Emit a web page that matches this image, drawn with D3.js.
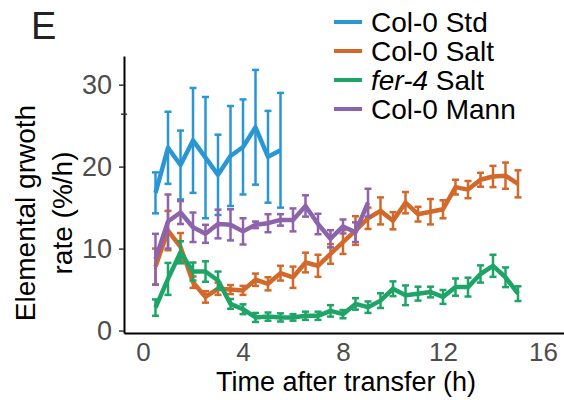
<!DOCTYPE html>
<html><head><meta charset="utf-8">
<script src="https://cdn.jsdelivr.net/npm/d3@7"></script>
<style>body{margin:0;background:#fff}svg{display:block}text{font-family:"Liberation Sans",Arial,sans-serif}</style>
</head><body><svg id="c" width="564" height="400"></svg>
<script>
const seriesNames = ["Col-0 Std", "Col-0 Salt", "fer-4 Salt", "Col-0 Mann"];
const seriesColors = ["#2a96d4", "#d2692a", "#1fa468", "#8d63ab"];
const xTicks = [0, 4, 8, 12, 16];
const yTicks = [0, 10, 20, 30];

const stdTime = [0.5,1,1.5,2,2.5,3,3.5,4,4.5,5,5.5];
const stdMean = [16.8,22.3,20.2,23.2,21.1,19.0,21.3,22.4,24.8,21.2,22.0];
const stdErr  = [2.5,4.4,4.2,6.4,7.4,4.9,6.1,5.8,7.0,5.6,7.0];

const saltTime = [0.5,1,1.5,2,2.5,3,3.5,4,4.5,5,5.5,6,6.5,7,7.5,8,8.5,9,9.5,10,10.5,11,11.5,12,12.5,13,13.5,14,14.5,15];
const saltMean = [7.8,12.2,10.2,5.9,4.1,5.1,5.0,4.9,6.2,5.7,7.0,6.5,8.3,7.9,9.35,10.8,12.2,13.7,14.6,13.4,15.6,14.2,14.5,14.8,17.5,17.2,18.4,18.8,18.9,17.9];
const saltErr  = [2.2,2.4,1.7,0.7,0.7,0.75,0.55,0.55,0.75,0.8,0.9,1.3,1.2,1.35,1.2,1.45,1.75,1.3,1.65,1.05,1.3,0.9,1.55,1.1,0.9,1.05,0.85,1.3,1.6,1.65];

const ferTime = saltTime;
const ferMean = [2.8,6.3,9.55,7.2,7.2,6.1,3.25,2.6,1.6,1.7,1.6,1.6,1.8,1.8,2.4,2.0,3.25,2.85,3.65,5.1,4.3,4.5,4.7,4.1,5.3,5.3,6.9,7.9,6.5,4.5];
const ferErr  = [1.0,1.95,1.35,1.1,1.25,1.1,0.6,0.6,0.55,0.5,0.5,0.4,0.5,0.5,0.7,0.5,0.7,0.7,0.9,0.9,1.2,0.85,0.65,0.85,1.05,1.15,1.05,1.35,1.2,0.9];

const mannTime = [0.5,1,1.5,2,2.5,3,3.5,4,4.5,5,5.5,6,6.5,7,7.5,8,8.5,9];
const mannMean = [8.7,13.3,14.4,12.6,11.8,13.0,12.9,12.1,12.9,13.1,13.5,13.5,15.2,13.0,11.2,12.7,12.0,15.6];
const mannErr  = [3.1,3.3,1.4,1.8,1.1,1.75,1.9,1.6,0.4,1.1,0.7,1.4,1.3,1.25,1.05,0.85,1.2,1.7];

const seriesData = [
  [stdTime, stdMean, stdErr],
  [saltTime, saltMean, saltErr],
  [ferTime, ferMean, ferErr],
  [mannTime, mannMean, mannErr]
];

const svg = d3.select("#c");
const x = d3.scaleLinear().domain([-0.76, 16.84]).range([124, 564]);
const y = d3.scaleLinear().domain([-0.3, 33.5]).range([333, 56]);

// axes
const gx = svg.append("g").attr("transform", "translate(0,333)")
  .call(d3.axisBottom(x).tickValues(xTicks).tickSize(0).tickSizeOuter(0).tickPadding(10));
gx.select(".domain").attr("stroke", "#000").attr("stroke-width", 2);
gx.selectAll("text").attr("font-size", 26).attr("fill", "#4d4d4d")
  .attr("font-family", '"Liberation Sans",Arial,sans-serif');

const gy = svg.append("g").attr("transform", "translate(124,0)")
  .call(d3.axisLeft(y).tickValues(yTicks).tickSize(5).tickSizeOuter(0).tickPadding(7));
gy.select(".domain").attr("stroke", "#000").attr("stroke-width", 2);
gy.selectAll(".tick line").attr("stroke", "#333").attr("stroke-width", 1.5);
gy.selectAll("text").attr("font-size", 27).attr("fill", "#4d4d4d")
  .attr("font-family", '"Liberation Sans",Arial,sans-serif');
// small stray tick mark on the y axis
svg.append("line").attr("x1", 121).attr("x2", 127).attr("y1", y(26.4)).attr("y2", y(26.4))
  .attr("stroke", "#333").attr("stroke-width", 1.5);

// axis titles
svg.append("text").attr("x", 346).attr("y", 391).attr("text-anchor", "middle")
  .attr("font-size", 27).attr("fill", "#000").text("Time after transfer (h)");
const yt = svg.append("text").attr("transform", "translate(0,213) rotate(-90)")
  .attr("text-anchor", "middle").attr("font-size", 28).attr("fill", "#000");
yt.append("tspan").attr("x", 0).attr("y", 35).text("Elemental grwoth");
yt.append("tspan").attr("x", 0).attr("y", 72).text("rate (%/h)");

// panel letter
svg.append("text").attr("x", 31).attr("y", 39).attr("font-size", 38).attr("fill", "#222").text("E");

// series
const line = d3.line().x(d => x(d.t)).y(d => y(d.m));
seriesData.forEach((s, i) => {
  const pts = s[0].map((t, k) => ({t: t, m: s[1][k], e: s[2][k]}));
  const g = svg.append("g").attr("stroke", seriesColors[i]).attr("fill", "none");
  g.selectAll("line.eb").data(pts).join("line").attr("class", "eb")
    .attr("x1", d => x(d.t)).attr("x2", d => x(d.t))
    .attr("y1", d => y(d.m - d.e)).attr("y2", d => y(d.m + d.e))
    .attr("stroke-width", 2.5);
  [-1, 1].forEach(sg => {
    g.selectAll("line.cap" + (sg > 0 ? "u" : "d")).data(pts).join("line").attr("class", "cap" + (sg > 0 ? "u" : "d"))
      .attr("x1", d => x(d.t) - 3.5).attr("x2", d => x(d.t) + 3.5)
      .attr("y1", d => y(d.m + sg * d.e)).attr("y2", d => y(d.m + sg * d.e))
      .attr("stroke-width", 2.5);
  });
  g.append("path").datum(pts).attr("d", line).attr("stroke-width", 4.5)
    .attr("stroke-linejoin", "round");
});

// legend
const lg = svg.append("g");
seriesNames.forEach((n, i) => {
  const yy = 22 + i * 29;
  lg.append("line").attr("x1", 334).attr("x2", 362).attr("y1", yy).attr("y2", yy)
    .attr("stroke", seriesColors[i]).attr("stroke-width", 4);
  const t = lg.append("text").attr("x", 371).attr("y", yy + 10).attr("font-size", 28).attr("fill", "#000");
  if (n.startsWith("fer-4")) {
    t.append("tspan").attr("font-style", "italic").text("fer-4");
    t.append("tspan").text(" Salt");
  } else t.text(n);
});
</script></body></html>
